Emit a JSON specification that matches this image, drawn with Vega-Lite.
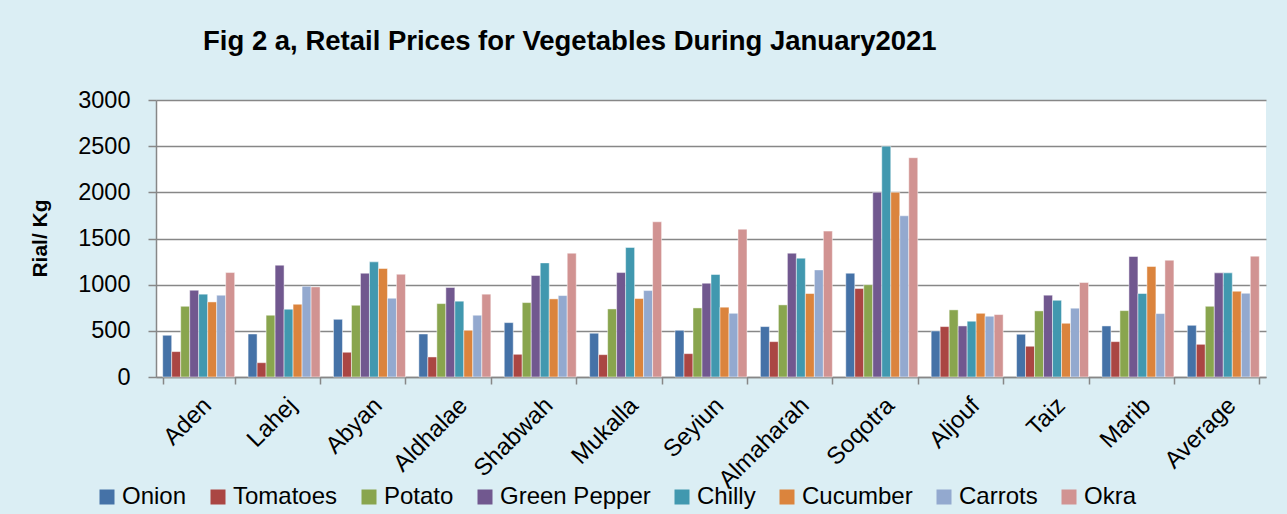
{
  "$schema": "https://vega.github.io/schema/vega-lite/v6.json",
  "width": 1110,
  "height": 277,
  "autosize": {"type": "none"},
  "padding": {"left": 156, "top": 100, "right": 21, "bottom": 137},
  "background": "#DBEEF4",
  "view": {"fill": "white", "stroke": null},
  "title": {
    "text": "Fig 2 a, Retail Prices for Vegetables During January2021",
    "anchor": "start",
    "frame": "group",
    "dx": 47,
    "offset": 33,
    "font": "Liberation Sans",
    "fontSize": 27.5,
    "fontWeight": "bold",
    "color": "black"
  },
  "data": {
    "values": [
      {"market": "Aden", "veg": "Onion", "price": 452},
      {"market": "Aden", "veg": "Tomatoes", "price": 275},
      {"market": "Aden", "veg": "Potato", "price": 766},
      {"market": "Aden", "veg": "Green Pepper", "price": 940},
      {"market": "Aden", "veg": "Chilly", "price": 897},
      {"market": "Aden", "veg": "Cucumber", "price": 813},
      {"market": "Aden", "veg": "Carrots", "price": 886},
      {"market": "Aden", "veg": "Okra", "price": 1131},
      {"market": "Lahej", "veg": "Onion", "price": 466},
      {"market": "Lahej", "veg": "Tomatoes", "price": 155},
      {"market": "Lahej", "veg": "Potato", "price": 669},
      {"market": "Lahej", "veg": "Green Pepper", "price": 1211},
      {"market": "Lahej", "veg": "Chilly", "price": 734},
      {"market": "Lahej", "veg": "Cucumber", "price": 788},
      {"market": "Lahej", "veg": "Carrots", "price": 983},
      {"market": "Lahej", "veg": "Okra", "price": 976},
      {"market": "Abyan", "veg": "Onion", "price": 625},
      {"market": "Abyan", "veg": "Tomatoes", "price": 268},
      {"market": "Abyan", "veg": "Potato", "price": 777},
      {"market": "Abyan", "veg": "Green Pepper", "price": 1124},
      {"market": "Abyan", "veg": "Chilly", "price": 1247},
      {"market": "Abyan", "veg": "Cucumber", "price": 1175},
      {"market": "Abyan", "veg": "Carrots", "price": 853},
      {"market": "Abyan", "veg": "Okra", "price": 1113},
      {"market": "Aldhalae", "veg": "Onion", "price": 466},
      {"market": "Aldhalae", "veg": "Tomatoes", "price": 217},
      {"market": "Aldhalae", "veg": "Potato", "price": 795},
      {"market": "Aldhalae", "veg": "Green Pepper", "price": 969},
      {"market": "Aldhalae", "veg": "Chilly", "price": 821},
      {"market": "Aldhalae", "veg": "Cucumber", "price": 506},
      {"market": "Aldhalae", "veg": "Carrots", "price": 669},
      {"market": "Aldhalae", "veg": "Okra", "price": 897},
      {"market": "Shabwah", "veg": "Onion", "price": 589},
      {"market": "Shabwah", "veg": "Tomatoes", "price": 246},
      {"market": "Shabwah", "veg": "Potato", "price": 806},
      {"market": "Shabwah", "veg": "Green Pepper", "price": 1099},
      {"market": "Shabwah", "veg": "Chilly", "price": 1236},
      {"market": "Shabwah", "veg": "Cucumber", "price": 846},
      {"market": "Shabwah", "veg": "Carrots", "price": 882},
      {"market": "Shabwah", "veg": "Okra", "price": 1341},
      {"market": "Mukalla", "veg": "Onion", "price": 474},
      {"market": "Mukalla", "veg": "Tomatoes", "price": 242},
      {"market": "Mukalla", "veg": "Potato", "price": 737},
      {"market": "Mukalla", "veg": "Green Pepper", "price": 1131},
      {"market": "Mukalla", "veg": "Chilly", "price": 1403},
      {"market": "Mukalla", "veg": "Cucumber", "price": 850},
      {"market": "Mukalla", "veg": "Carrots", "price": 936},
      {"market": "Mukalla", "veg": "Okra", "price": 1681},
      {"market": "Seyiun", "veg": "Onion", "price": 506},
      {"market": "Seyiun", "veg": "Tomatoes", "price": 253},
      {"market": "Seyiun", "veg": "Potato", "price": 748},
      {"market": "Seyiun", "veg": "Green Pepper", "price": 1016},
      {"market": "Seyiun", "veg": "Chilly", "price": 1110},
      {"market": "Seyiun", "veg": "Cucumber", "price": 756},
      {"market": "Seyiun", "veg": "Carrots", "price": 690},
      {"market": "Seyiun", "veg": "Okra", "price": 1601},
      {"market": "Almaharah", "veg": "Onion", "price": 546},
      {"market": "Almaharah", "veg": "Tomatoes", "price": 383},
      {"market": "Almaharah", "veg": "Potato", "price": 781},
      {"market": "Almaharah", "veg": "Green Pepper", "price": 1341},
      {"market": "Almaharah", "veg": "Chilly", "price": 1287},
      {"market": "Almaharah", "veg": "Cucumber", "price": 904},
      {"market": "Almaharah", "veg": "Carrots", "price": 1160},
      {"market": "Almaharah", "veg": "Okra", "price": 1580},
      {"market": "Soqotra", "veg": "Onion", "price": 1124},
      {"market": "Soqotra", "veg": "Tomatoes", "price": 958},
      {"market": "Soqotra", "veg": "Potato", "price": 1000},
      {"market": "Soqotra", "veg": "Green Pepper", "price": 2000},
      {"market": "Soqotra", "veg": "Chilly", "price": 2500},
      {"market": "Soqotra", "veg": "Cucumber", "price": 2000},
      {"market": "Soqotra", "veg": "Carrots", "price": 1746},
      {"market": "Soqotra", "veg": "Okra", "price": 2375},
      {"market": "Aljouf", "veg": "Onion", "price": 499},
      {"market": "Aljouf", "veg": "Tomatoes", "price": 546},
      {"market": "Aljouf", "veg": "Potato", "price": 727},
      {"market": "Aljouf", "veg": "Green Pepper", "price": 553},
      {"market": "Aljouf", "veg": "Chilly", "price": 604},
      {"market": "Aljouf", "veg": "Cucumber", "price": 690},
      {"market": "Aljouf", "veg": "Carrots", "price": 658},
      {"market": "Aljouf", "veg": "Okra", "price": 676},
      {"market": "Taiz", "veg": "Onion", "price": 463},
      {"market": "Taiz", "veg": "Tomatoes", "price": 333},
      {"market": "Taiz", "veg": "Potato", "price": 716},
      {"market": "Taiz", "veg": "Green Pepper", "price": 886},
      {"market": "Taiz", "veg": "Chilly", "price": 831},
      {"market": "Taiz", "veg": "Cucumber", "price": 582},
      {"market": "Taiz", "veg": "Carrots", "price": 745},
      {"market": "Taiz", "veg": "Okra", "price": 1023},
      {"market": "Marib", "veg": "Onion", "price": 553},
      {"market": "Marib", "veg": "Tomatoes", "price": 383},
      {"market": "Marib", "veg": "Potato", "price": 719},
      {"market": "Marib", "veg": "Green Pepper", "price": 1305},
      {"market": "Marib", "veg": "Chilly", "price": 904},
      {"market": "Marib", "veg": "Cucumber", "price": 1197},
      {"market": "Marib", "veg": "Carrots", "price": 687},
      {"market": "Marib", "veg": "Okra", "price": 1265},
      {"market": "Average", "veg": "Onion", "price": 560},
      {"market": "Average", "veg": "Tomatoes", "price": 354},
      {"market": "Average", "veg": "Potato", "price": 766},
      {"market": "Average", "veg": "Green Pepper", "price": 1128},
      {"market": "Average", "veg": "Chilly", "price": 1128},
      {"market": "Average", "veg": "Cucumber", "price": 929},
      {"market": "Average", "veg": "Carrots", "price": 907},
      {"market": "Average", "veg": "Okra", "price": 1309}
    ]
  },
  "mark": {"type": "bar", "stroke": "white", "strokeWidth": 0.6, "strokeOpacity": 0.8},
  "encoding": {
    "x": {
      "field": "market",
      "type": "nominal",
      "sort": null,
      "scale": {"paddingInner": 0.157, "paddingOuter": 0.0785},
      "axis": {
        "title": null,
        "tickBand": "extent",
        "domainColor": "#878787",
        "domainWidth": 1.5,
        "tickColor": "#878787",
        "tickWidth": 1.5,
        "tickSize": 7,
        "labelAngle": -45,
        "labelAlign": "right",
        "labelBaseline": "top",
        "labelPadding": 9,
        "labelFont": "Liberation Sans",
        "labelFontSize": 24,
        "labelColor": "black",
        "grid": false
      }
    },
    "xOffset": {
      "field": "veg",
      "type": "nominal",
      "sort": ["Onion", "Tomatoes", "Potato", "Green Pepper", "Chilly", "Cucumber", "Carrots", "Okra"]
    },
    "y": {
      "field": "price",
      "type": "quantitative",
      "scale": {"domain": [0, 3000], "nice": false},
      "axis": {
        "title": "Rial/ Kg",
        "titleFont": "Liberation Sans",
        "titleFontSize": 21,
        "titleFontWeight": "bold",
        "titleColor": "black",
        "titleX": -116,
        "titleY": 138,
        "titleAlign": "center",
        "titleBaseline": "middle",
        "titleAngle": -90,
        "values": [0, 500, 1000, 1500, 2000, 2500, 3000],
        "format": "d",
        "labelFont": "Liberation Sans",
        "labelFontSize": 23.5,
        "labelColor": "black",
        "labelPadding": 18,
        "tickSize": 8,
        "tickColor": "#878787",
        "tickWidth": 1.5,
        "domainColor": "#878787",
        "domainWidth": 1.5,
        "gridColor": "#878787",
        "gridWidth": 1.6
      }
    },
    "color": {
      "field": "veg",
      "type": "nominal",
      "scale": {
        "domain": ["Onion", "Tomatoes", "Potato", "Green Pepper", "Chilly", "Cucumber", "Carrots", "Okra"],
        "range": ["#4572A7", "#AA4643", "#89A54E", "#71588F", "#4198AF", "#DB843D", "#93A9CF", "#D19392"]
      },
      "legend": {
        "title": null,
        "orient": "none",
        "legendX": -61,
        "legendY": 385,
        "direction": "horizontal",
        "columns": 8,
        "symbolType": "square",
        "symbolSize": 225,
        "symbolStrokeWidth": 0,
        "labelFont": "Liberation Sans",
        "labelFontSize": 24,
        "labelColor": "black",
        "labelOffset": 3,
        "columnPadding": 19,
        "labelLimit": 300
      }
    }
  }
}
